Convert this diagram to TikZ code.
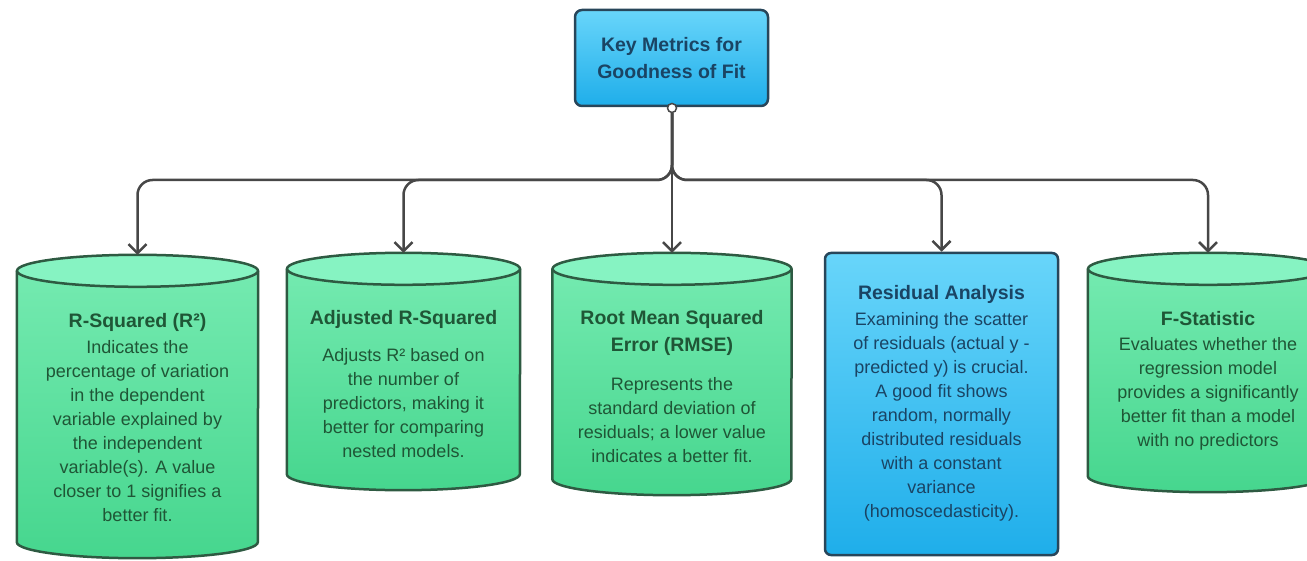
\documentclass[tikz,border=0pt]{standalone}
\usepackage{fontspec}
\usepackage{xcolor}
\usepackage{tikz}
\usetikzlibrary{arrows.meta}
\setmainfont{Liberation Sans}

\definecolor{cylhi}{HTML}{74EAB0}
\definecolor{cyllo}{HTML}{46D68E}
\definecolor{cyltop}{HTML}{86F3C2}
\definecolor{cylline}{HTML}{2E5A42}
\definecolor{greentxt}{HTML}{1F5636}
\definecolor{bluehi}{HTML}{68D5FA}
\definecolor{bluelo}{HTML}{1FAEEA}
\definecolor{blueline}{HTML}{28465A}
\definecolor{bluetxt}{HTML}{1A4464}
\definecolor{linkgray}{HTML}{474747}

\newcommand{\titlefont}{\fontsize{19.5}{27}\selectfont\bfseries}
\newcommand{\bodyfont}{\fontsize{18}{24}\selectfont}

\tikzset{
  cyl/.style={rectangle, inner sep=0pt},
  bluebox/.style={rectangle, rounded corners=7pt, draw=blueline, line width=2.5pt,
    top color=bluehi, bottom color=bluelo},
  ttl/.style={font=\titlefont, align=center, anchor=base, inner sep=0pt},
  txt/.style={font=\bodyfont, align=center, anchor=north, inner sep=0pt},
  link/.style={draw=linkgray, line width=2.5pt, rounded corners=15pt,
    -{Straight Barb[length=9pt,width=18pt]}},
}

\begin{document}
\begin{tikzpicture}[x=1pt,y=1pt]
\useasboundingbox (0,0) rectangle (1307,560);
\clip (0,0) rectangle (1307,560);

% root
\node[bluebox, minimum width=193pt, minimum height=96pt, font=\titlefont,
  text=bluetxt, align=center] (kmf) at (671.5,502) {Key Metrics for\\Goodness of Fit};
\node[circle, draw=linkgray, fill=white, line width=1.5pt, minimum size=9pt,
  inner sep=0pt] (hub) at (672,452) {};
\coordinate (split) at (672,380);

% cylinder bodies (between the two ellipse centres)
\node[cyl, minimum width=241pt, minimum height=271pt] (rsq) at (137.5,153.5) {};
\node[cyl, minimum width=233pt, minimum height=205pt] (adj) at (403.5,188.5) {};
\node[cyl, minimum width=239pt, minimum height=210pt] (rmse) at (672,186) {};
\node[cyl, minimum width=240pt, minimum height=207pt] (fst) at (1208,187.5) {};
\node[bluebox, rounded corners=6pt, minimum width=233pt, minimum height=302pt] (resid) at (941.5,156) {};

\foreach \n/\r in {rsq/120.5, adj/116.5, rmse/119.5, fst/120} {
  \fill[top color=cylhi, bottom color=cyllo] (\n.north west) -- (\n.south west)
    arc[start angle=180, end angle=360, x radius=\r, y radius=16] -- (\n.north east)
    arc[start angle=0, end angle=-180, x radius=\r, y radius=16] -- cycle;
  \draw[cylline, line width=2.5pt] (\n.north west) -- (\n.south west)
    arc[start angle=180, end angle=360, x radius=\r, y radius=16] -- (\n.north east);
  \filldraw[fill=cyltop, draw=cylline, line width=2.5pt] (\n.north) ellipse [x radius=\r, y radius=16];
}

% texts
\node[ttl, text=greentxt] (rsq-t) at (137.5,232) {R-Squared (R²)};
\node[txt, text=greentxt] (rsq-b) at (137.5,220) {Indicates the\\percentage of variation\\in the dependent\\variable explained by\\the independent\\variable(s). A value\\closer to 1 signifies a\\better fit.};

\node[ttl, text=greentxt] (adj-t) at (403.5,235) {Adjusted R-Squared};
\node[txt, text=greentxt] (adj-b) at (403.5,212) {Adjusts R² based on\\the number of\\predictors, making it\\better for comparing\\nested models.};

\node[ttl, text=greentxt] (rmse-t) at (672,208) {Root Mean Squared\\Error (RMSE)};
\node[txt, text=greentxt] (rmse-b) at (672,183) {Represents the\\standard deviation of\\residuals; a lower value\\indicates a better fit.};

\node[ttl, text=bluetxt] (resid-t) at (941.5,260) {Residual Analysis};
\node[txt, text=bluetxt] (resid-b) at (941.5,248) {Examining the scatter\\of residuals (actual y -\\predicted y) is crucial.\\A good fit shows\\random, normally\\distributed residuals\\with a constant\\variance\\(homoscedasticity).};

\node[ttl, text=greentxt] (fst-t) at (1208,234) {F-Statistic};
\node[txt, text=greentxt] (fst-b) at (1208,223) {Evaluates whether the\\regression model\\provides a significantly\\better fit than a model\\with no predictors};

% connectors
\draw[link] (hub.south) -- (split) -| ([yshift=16pt]rsq.north);
\draw[link] (hub.south) -- (split) -| ([yshift=16pt]adj.north);
\draw[link] (hub.south) -- ([yshift=16pt]rmse.north);
\draw[link] (hub.south) -- (split) -| (resid.north);
\draw[link] (hub.south) -- (split) -| ([yshift=16pt]fst.north);
\end{tikzpicture}
\end{document}
